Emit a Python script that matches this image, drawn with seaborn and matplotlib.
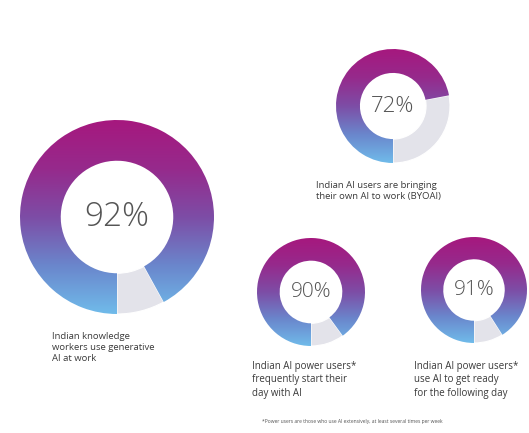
import numpy as np
import matplotlib
matplotlib.use("Agg")
import matplotlib.pyplot as plt
from matplotlib.colors import LinearSegmentedColormap
import seaborn as sns

# ---- data ----
shares = [92, 72, 90, 91]
value_labels = ["92%", "72%", "90%", "91%"]
captions = [
    "Indian knowledge\nworkers use generative\nAI at work",
    "Indian AI users are bringing\ntheir own AI to work (BYOAI)",
    "Indian AI power users*\nfrequently start their\nday with AI",
    "Indian AI power users*\nuse AI to get ready\nfor the following day",
]
footnote = "*Power users are those who use AI extensively, at least several times per week"

sns.set_theme(style="white")
plt.rcParams["font.family"] = ["Open Sans", "DejaVu Sans"]

W, H = 529, 433
fig = plt.figure(figsize=(W / 100, H / 100), dpi=100)
ax = fig.add_axes([0, 0, 1, 1])
ax.set_xlim(0, W)
ax.set_ylim(0, H)
ax.set_aspect("equal")
ax.axis("off")

cmap = LinearSegmentedColormap.from_list(
    "grad", ["#70bbea", "#6a86cc", "#7d4da6", "#962a8c", "#a6187e"])

# layout (pixel positions, y measured from top)
centers = [(117, 217), (393, 106), (311, 292), (474, 290)]
radii = [97, 57, 54, 53]
pct_sizes = [24, 16, 15, 15]
cap_pos = [(52, 332, "left"), (316, 181, "left"), (252, 361, "left"), (414, 361, "left")]
cap_sizes = [6.8, 6.8, 7, 7]

for share, vlab, cap, (cx, cy), r, ps, (tx, ty, ha), cs in zip(
        shares, value_labels, captions, centers, radii, pct_sizes, cap_pos, cap_sizes):
    cyy = H - cy
    wedges, _ = ax.pie([share, 100 - share], colors=["#ffffff", "#e3e3ea"],
                       startangle=270, counterclock=False,
                       radius=r, center=(cx, cyy), frame=True,
                       wedgeprops=dict(width=r * 0.42, edgecolor="white", linewidth=0.8))
    grad = np.linspace(0, 1, 256).reshape(-1, 1)
    im = ax.imshow(grad, cmap=cmap, origin="lower", aspect="auto",
                   extent=(cx - r, cx + r, cyy - r, cyy + r), zorder=wedges[0].get_zorder() + 0.1)
    im.set_clip_path(wedges[0])
    ax.text(cx, cyy, vlab, ha="center", va="center", fontsize=ps,
            color="#555555", fontweight="light")
    ax.text(tx, H - ty, cap, ha=ha, va="top", fontsize=cs, color="#3a3a3a",
            linespacing=1.3)

ax.text(262, H - 419, footnote, ha="left", va="top", fontsize=3.6, color="#555555")

ax.set_xlim(0, W)
ax.set_ylim(0, H)
fig.savefig("out.png", dpi=100, facecolor="white")
